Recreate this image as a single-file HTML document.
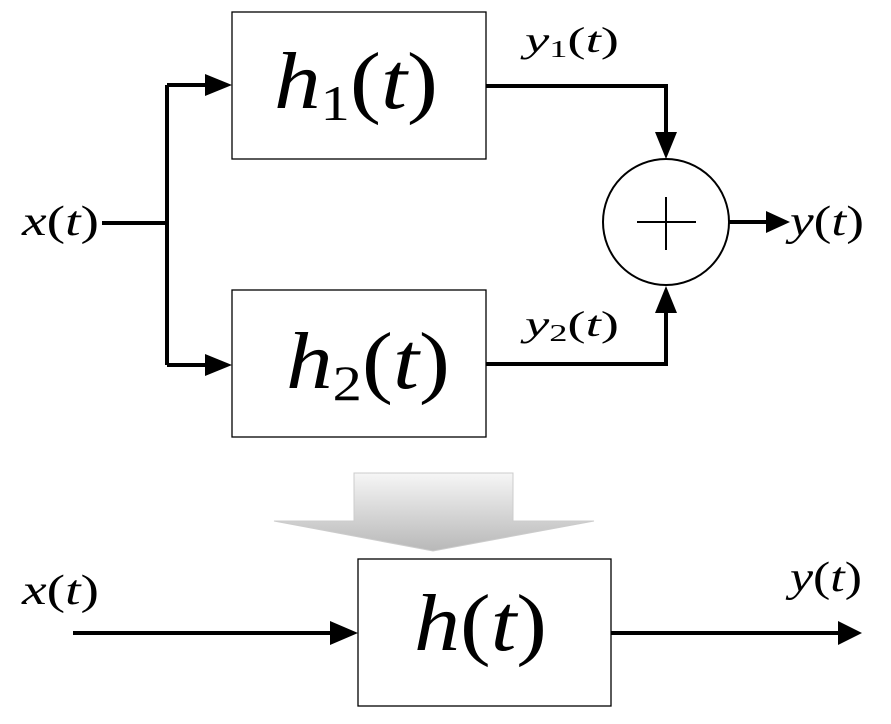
<!DOCTYPE html>
<html><head><style>body{margin:0;background:#fff}svg{display:block}text{font-family:"Liberation Serif","DejaVu Serif",serif}</style></head><body>
<svg width="891" height="724" viewBox="0 0 891 724" xmlns="http://www.w3.org/2000/svg">
<defs>
<linearGradient id="g" x1="0" y1="0" x2="0" y2="1"><stop offset="0" stop-color="#f6f6f6"/><stop offset="1" stop-color="#b8b8b8"/></linearGradient>
</defs>
<g fill="none" stroke="#000">
<rect x="232" y="12" width="254" height="147" stroke-width="1.3"/>
<rect x="232" y="290" width="254" height="147" stroke-width="1.3"/>
<circle cx="666" cy="222" r="63" stroke-width="2"/>
<path d="M637 222H696M666 197V250" stroke-width="2"/>
<path d="M102 223H167M167 85V365M167 85H208M167 365H208M486 86H666V134M486 364H666V312M729 222H768" stroke-width="4"/>
<rect x="358" y="559" width="253" height="147" stroke-width="1.3"/>
<path d="M73 633H332M611 633H840" stroke-width="4"/>
</g>
<g fill="#000">
<path d="M205 74L232 85L205 96Z"/>
<path d="M205 354L232 365L205 376Z"/>
<path d="M655 132L666 159L677 132Z"/>
<path d="M655 313L666 286L677 313Z"/>
<path d="M766 211L790 222L766 233Z"/>
<path d="M330 621L358 633L330 645Z"/>
<path d="M838 621L862 633L838 645Z"/>
</g>
<path d="M354 473H513V521H594L433 551L274 521H354Z" fill="url(#g)" stroke="#ccc"/>
<g font-style="italic" fill="#000">
<text x="274" y="108" font-size="80" textLength="164" lengthAdjust="spacingAndGlyphs">h<tspan font-style="normal" font-size="50" dy="12">1</tspan><tspan font-style="normal" dy="-12">(</tspan>t<tspan font-style="normal">)</tspan></text>
<text x="286" y="388" font-size="80" textLength="164" lengthAdjust="spacingAndGlyphs">h<tspan font-style="normal" font-size="50" dy="12">2</tspan><tspan font-style="normal" dy="-12">(</tspan>t<tspan font-style="normal">)</tspan></text>
<text x="414" y="650" font-size="80" textLength="133" lengthAdjust="spacingAndGlyphs">h<tspan font-style="normal">(</tspan>t<tspan font-style="normal">)</tspan></text>
<text x="22" y="235" font-size="42" textLength="77" lengthAdjust="spacingAndGlyphs">x<tspan font-style="normal">(</tspan>t<tspan font-style="normal">)</tspan></text>
<text x="790" y="235" font-size="42" textLength="74" lengthAdjust="spacingAndGlyphs">y<tspan font-style="normal">(</tspan>t<tspan font-style="normal">)</tspan></text>
<text x="525" y="52" font-size="36" textLength="94" lengthAdjust="spacingAndGlyphs">y<tspan font-style="normal" font-size="24" dy="5">1</tspan><tspan font-style="normal" dy="-5">(</tspan>t<tspan font-style="normal">)</tspan></text>
<text x="525" y="336" font-size="36" textLength="94" lengthAdjust="spacingAndGlyphs">y<tspan font-style="normal" font-size="24" dy="5">2</tspan><tspan font-style="normal" dy="-5">(</tspan>t<tspan font-style="normal">)</tspan></text>
<text x="22" y="604" font-size="42" textLength="77" lengthAdjust="spacingAndGlyphs">x<tspan font-style="normal">(</tspan>t<tspan font-style="normal">)</tspan></text>
<text x="790" y="591" font-size="42" textLength="72" lengthAdjust="spacingAndGlyphs">y<tspan font-style="normal">(</tspan>t<tspan font-style="normal">)</tspan></text>
</g>
</svg>
</body></html>
